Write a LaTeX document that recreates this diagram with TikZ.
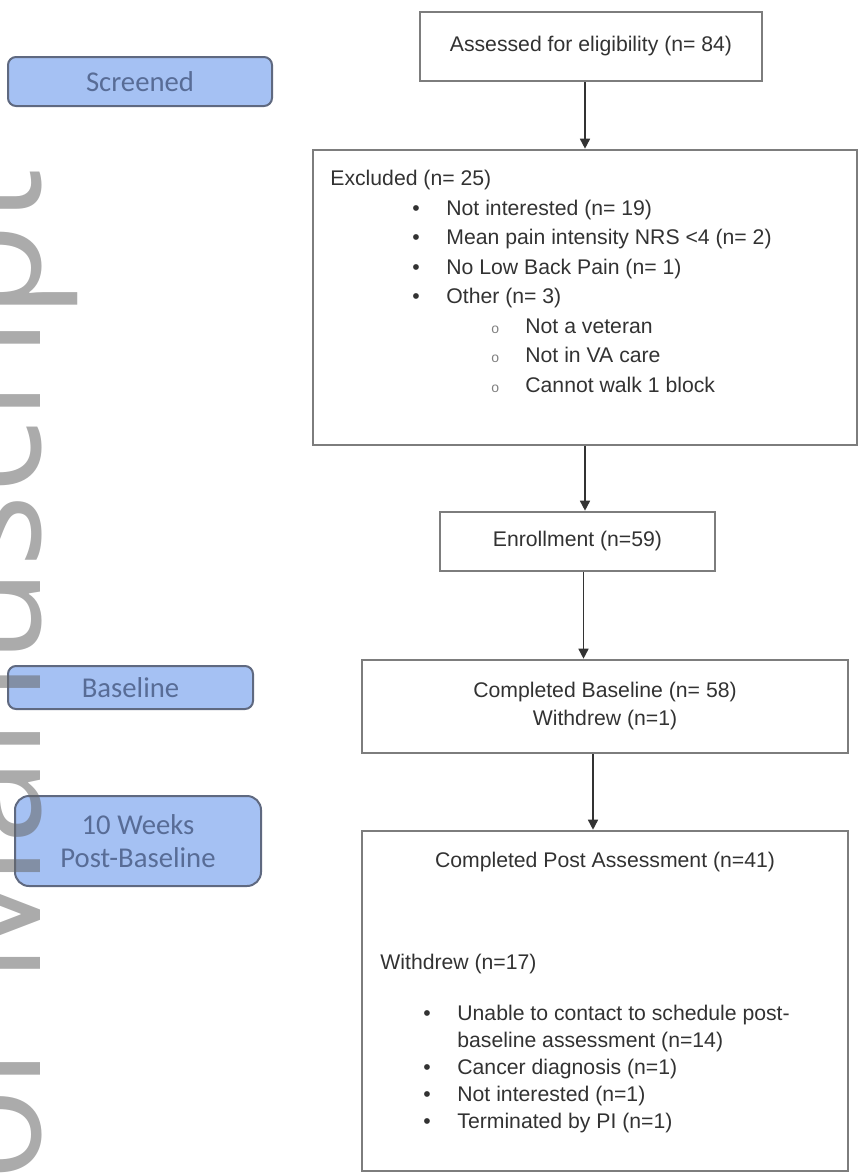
\documentclass[tikz,border=0pt]{standalone}
\usepackage{fontspec}
\setmainfont{Liberation Sans}
\newfontfamily\tabfont{Carlito}
\newfontfamily\stampfont{Open Sans}
\usetikzlibrary{arrows.meta,positioning}
\definecolor{boxLine}{RGB}{125,125,125}
\definecolor{boxText}{RGB}{50,50,50}
\definecolor{tabFill}{RGB}{165,193,243}
\definecolor{tabLine}{RGB}{95,105,128}
\definecolor{tabText}{RGB}{88,108,150}

\newcommand{\listDot}{\makebox[17pt][l]{\textbullet}}
\newcommand{\listRing}{\makebox[17pt][l]{\textcolor{black!50}{\scriptsize o}}}

\begin{document}
\begin{tikzpicture}[
    x=0.5pt, y=-0.5pt,
    font=\fontsize{10.6}{14.75}\selectfont,
    >={Triangle[width=5pt,length=5pt]},
    % Flow chart boxes
    flowBox/.style={
        draw=boxLine,
        line width=1.3pt,
        text=boxText,
        inner sep=0pt,
        align=center
    },
    % Left aligned lists inside a box
    listText/.style={
        text=boxText,
        inner sep=0pt,
        align=left,
        anchor=north west
    },
    % Arrows between boxes
    flowArrow/.style={
        ->,
        line width=0.8pt,
        draw=black!80
    },
    % Blue phase tabs on the left
    sideTab/.style={
        rounded corners=4pt,
        draw=tabLine,
        line width=1pt,
        fill=tabFill,
        text=tabText,
        align=center,
        inner sep=0pt,
        font=\tabfont\fontsize{14.35}{16.5}\selectfont
    }
]
    \clip (0,0) rectangle (859,1173);

    % Flow boxes
    \node[flowBox, minimum width=171pt, minimum height=34.5pt] (assess) at (591,46.5)
        {Assessed for eligibility (n= 84)};
    \node[flowBox, minimum width=272pt, minimum height=147.5pt] (excl) at (585,297.5) {};
    \node[flowBox, minimum width=137.5pt, minimum height=29.5pt] (enrol) at (577.5,541.5)
        {Enrollment (n=59)};
    \node[flowBox, minimum width=243pt, minimum height=46.5pt, font=\fontsize{10.6}{14}\selectfont] (base) at (605,706.5)
        {Completed Baseline (n= 58)\\Withdrew (n=1)};
    \node[flowBox, minimum width=243pt, minimum height=170pt] (post) at (605,1001) {};

    % Exclusion reasons
    \node[listText] (exclList) at (330,170) {
        Excluded (n= 25)\\
        \hspace*{41pt}\listDot Not interested (n= 19)\\
        \hspace*{41pt}\listDot Mean pain intensity NRS <4 (n= 2)\\
        \hspace*{41pt}\listDot No Low Back Pain (n= 1)\\
        \hspace*{41pt}\listDot Other (n= 3)\\
        \hspace*{80.5pt}\listRing Not a veteran\\
        \hspace*{80.5pt}\listRing Not in VA care\\
        \hspace*{80.5pt}\listRing Cannot walk 1 block
    };

    % Post assessment contents
    \node[text=boxText, inner sep=0pt] (postTitle) at (605,862) {Completed Post Assessment (n=41)};
    \node[listText, font=\fontsize{10.6}{13.5}\selectfont] (postList) at (380,954) {
        Withdrew (n=17)\\[12pt]
        \hspace*{21.5pt}\listDot Unable to contact to schedule post-\\
        \hspace*{38.5pt}baseline assessment (n=14)\\
        \hspace*{21.5pt}\listDot Cancer diagnosis (n=1)\\
        \hspace*{21.5pt}\listDot Not interested (n=1)\\
        \hspace*{21.5pt}\listDot Terminated by PI (n=1)
    };

    % Arrows
    \draw[flowArrow] (excl.north |- assess.south) -- (excl.north);
    \draw[flowArrow] (excl.south) -- (excl.south |- enrol.north);
    \draw[flowArrow] ([xshift=3pt]enrol.south) -- ([xshift=3pt]enrol.south |- base.north);
    \draw[flowArrow] ([xshift=-6pt]base.south) -- ([xshift=-6pt]base.south |- post.north);

    % Phase tabs
    \node[sideTab, minimum width=132pt, minimum height=24.5pt] (tabScreen) at (140,81.5) {Screened};
    \node[sideTab, minimum width=122.5pt, minimum height=21.5pt] (tabBase) at (130.5,687.5) {Baseline};
    \node[sideTab, rounded corners=7pt, minimum width=123pt, minimum height=45pt] (tabWeeks) at (138,841)
        {10 Weeks\\Post-Baseline};

    % Watermark along the left edge
    \node[font=\stampfont\fontsize{77.5}{80}\selectfont, text=black!60, opacity=0.55, text opacity=0.55,
          rotate=90, anchor=base east, inner sep=0pt] (stamp) at (40,168) {Author Manuscript};
\end{tikzpicture}
\end{document}
